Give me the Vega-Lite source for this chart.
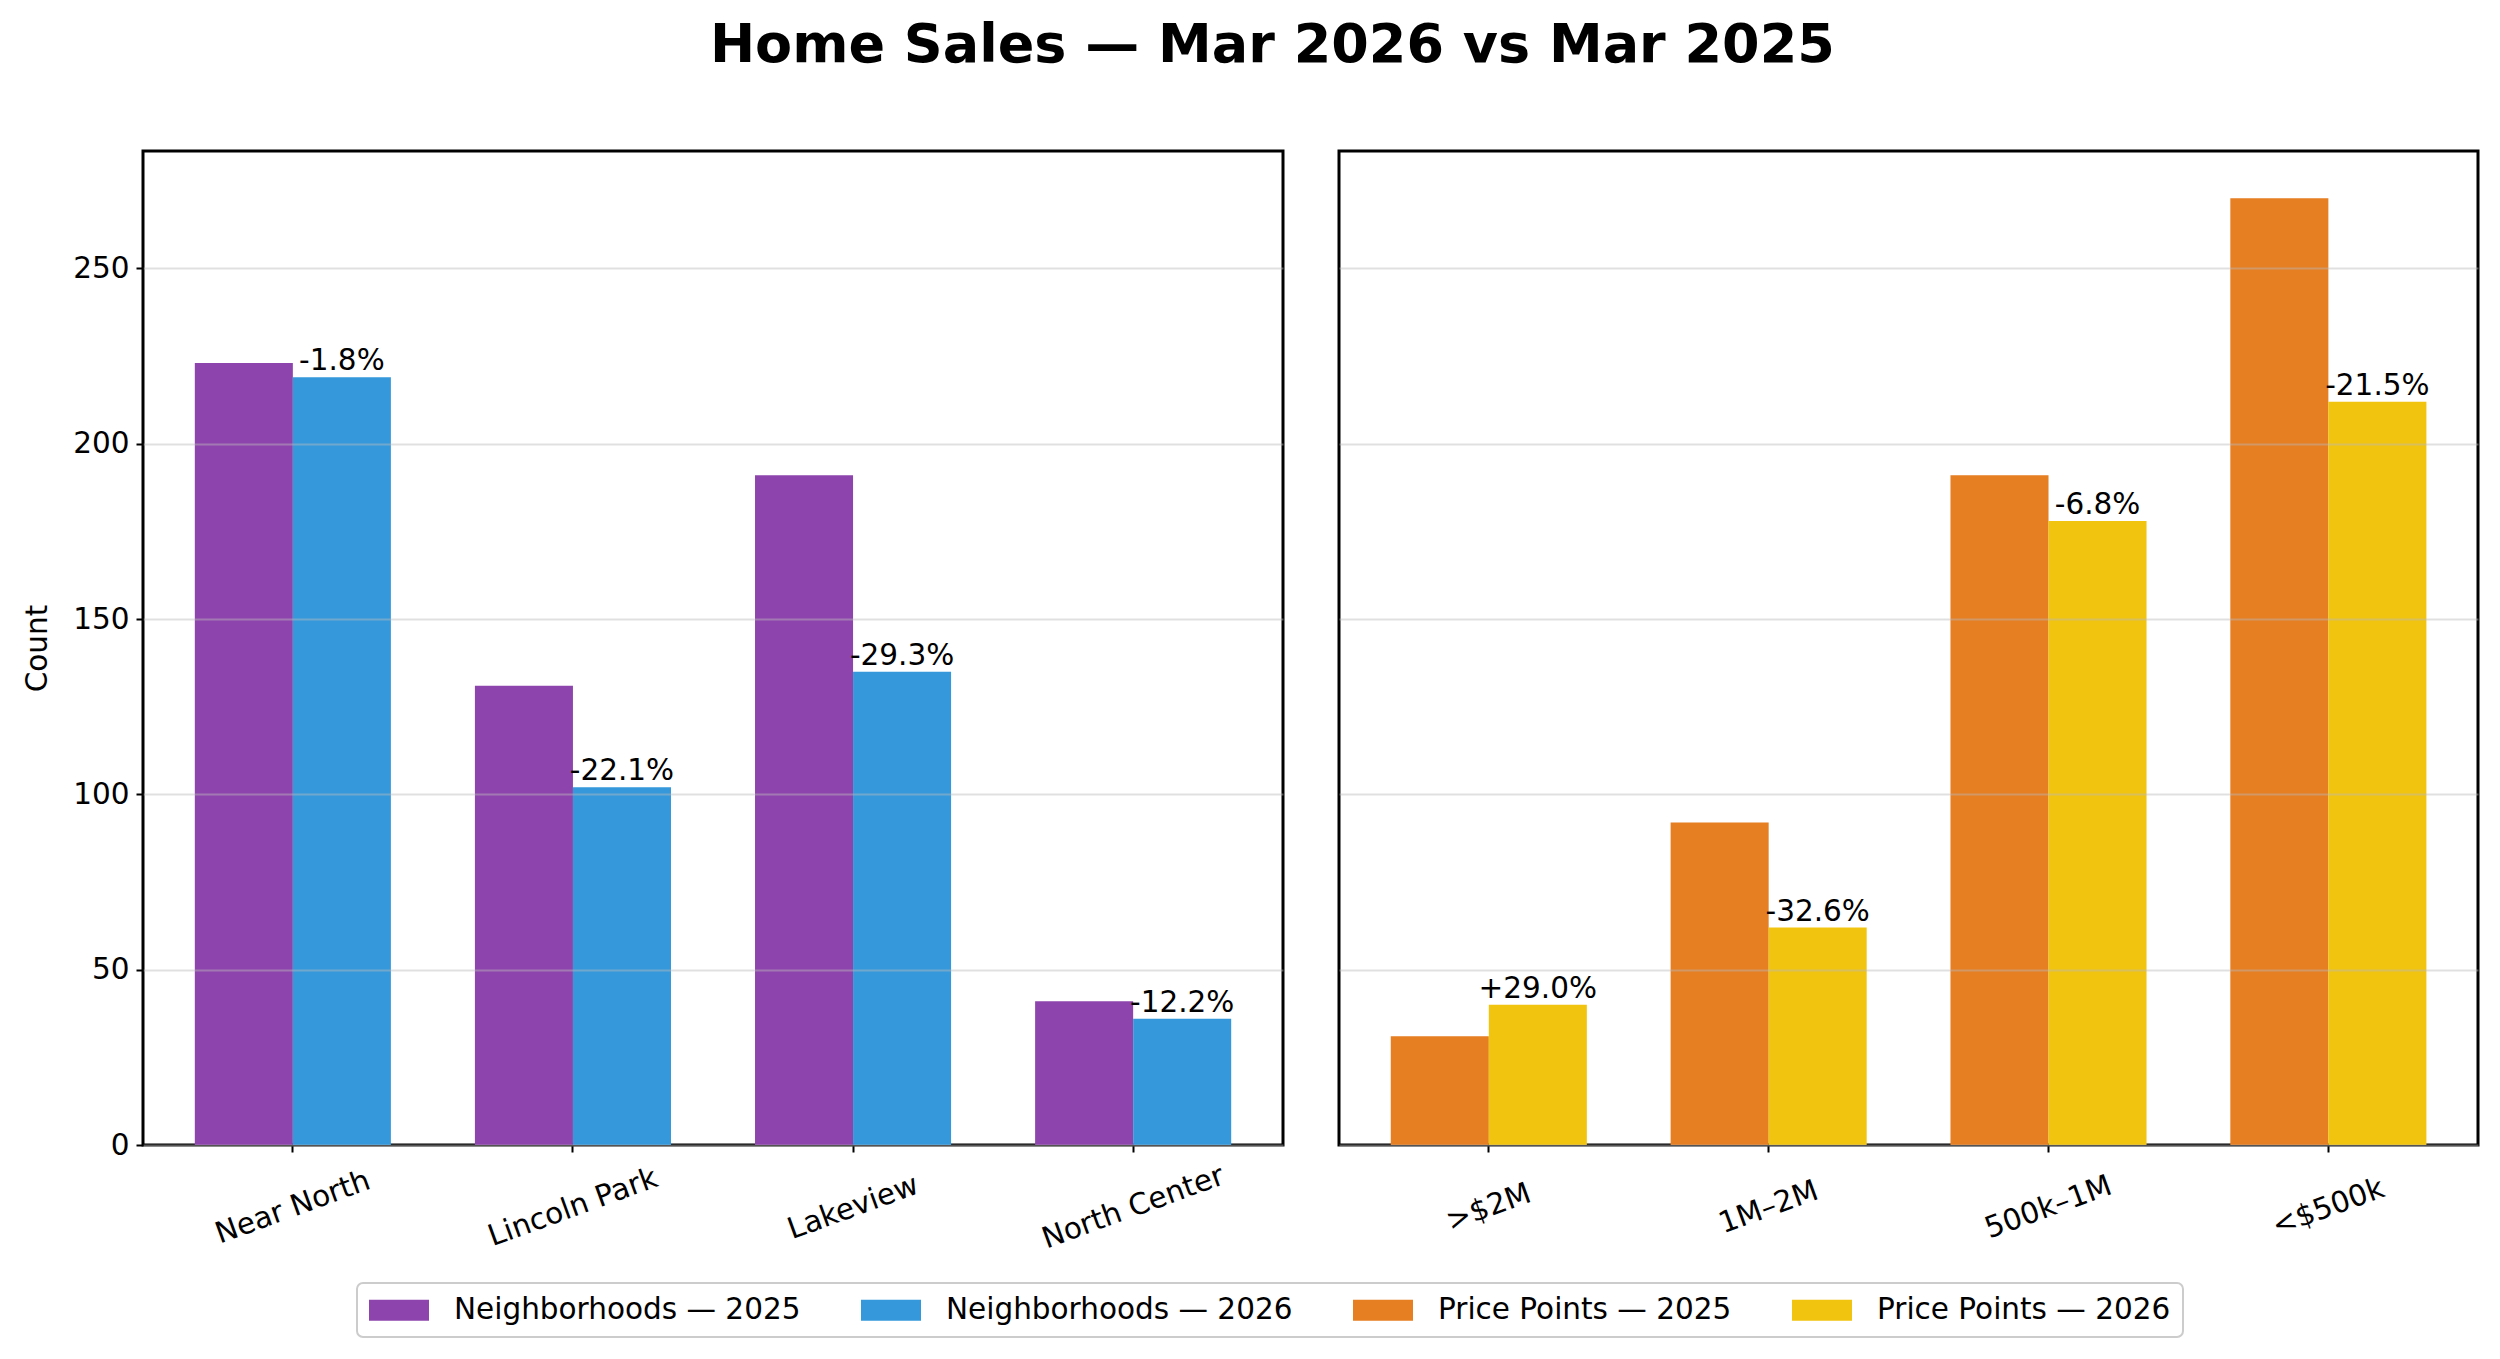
{
  "$schema": "https://vega.github.io/schema/vega-lite/v6.json",
  "background": "white",
  "padding": {"left": 21, "top": 18, "right": 20, "bottom": 10},
  "title": {
    "text": "Home Sales — Mar 2026 vs Mar 2025",
    "font": "DejaVu Sans",
    "fontSize": 54,
    "fontWeight": "bold",
    "color": "black",
    "anchor": "middle",
    "offset": 77,
    "dx": 22
  },
  "config": {
    "font": "DejaVu Sans",
    "view": {"stroke": "black", "strokeWidth": 3},
    "axis": {
      "labelFont": "DejaVu Sans",
      "labelFontSize": 29.5,
      "labelColor": "black",
      "labelLimit": 600,
      "titleFont": "DejaVu Sans",
      "titleFontSize": 29.5,
      "titleFontWeight": "normal",
      "titleColor": "black",
      "tickColor": "black",
      "tickWidth": 2,
      "tickSize": 7,
      "domain": false,
      "gridColor": "#bbbbbb",
      "gridOpacity": 0.45,
      "gridWidth": 2
    },
    "legend": {
      "labelFont": "DejaVu Sans",
      "labelFontSize": 29.5,
      "labelColor": "black",
      "labelLimit": 700,
      "labelOffset": 40,
      "columnPadding": 60,
      "padding": 12,
      "strokeColor": "#cccccc",
      "strokeWidth": 2,
      "cornerRadius": 6,
      "fillColor": "white"
    }
  },
  "data": {
    "values": [
      {"panel": "Neighborhoods", "category": "Near North", "year": "2025", "series": "Neighborhoods — 2025", "value": 223, "label": ""},
      {"panel": "Neighborhoods", "category": "Near North", "year": "2026", "series": "Neighborhoods — 2026", "value": 219, "label": "-1.8%"},
      {"panel": "Neighborhoods", "category": "Lincoln Park", "year": "2025", "series": "Neighborhoods — 2025", "value": 131, "label": ""},
      {"panel": "Neighborhoods", "category": "Lincoln Park", "year": "2026", "series": "Neighborhoods — 2026", "value": 102, "label": "-22.1%"},
      {"panel": "Neighborhoods", "category": "Lakeview", "year": "2025", "series": "Neighborhoods — 2025", "value": 191, "label": ""},
      {"panel": "Neighborhoods", "category": "Lakeview", "year": "2026", "series": "Neighborhoods — 2026", "value": 135, "label": "-29.3%"},
      {"panel": "Neighborhoods", "category": "North Center", "year": "2025", "series": "Neighborhoods — 2025", "value": 41, "label": ""},
      {"panel": "Neighborhoods", "category": "North Center", "year": "2026", "series": "Neighborhoods — 2026", "value": 36, "label": "-12.2%"},
      {"panel": "Price Points", "category": ">$2M", "year": "2025", "series": "Price Points — 2025", "value": 31, "label": ""},
      {"panel": "Price Points", "category": ">$2M", "year": "2026", "series": "Price Points — 2026", "value": 40, "label": "+29.0%"},
      {"panel": "Price Points", "category": "1M–2M", "year": "2025", "series": "Price Points — 2025", "value": 92, "label": ""},
      {"panel": "Price Points", "category": "1M–2M", "year": "2026", "series": "Price Points — 2026", "value": 62, "label": "-32.6%"},
      {"panel": "Price Points", "category": "500k–1M", "year": "2025", "series": "Price Points — 2025", "value": 191, "label": ""},
      {"panel": "Price Points", "category": "500k–1M", "year": "2026", "series": "Price Points — 2026", "value": 178, "label": "-6.8%"},
      {"panel": "Price Points", "category": "<$500k", "year": "2025", "series": "Price Points — 2025", "value": 270, "label": ""},
      {"panel": "Price Points", "category": "<$500k", "year": "2026", "series": "Price Points — 2026", "value": 212, "label": "-21.5%"}
    ]
  },
  "spacing": 52,
  "resolve": {"scale": {"color": "shared"}, "legend": {"color": "shared"}},
  "hconcat": [
    {
      "width": 1140,
      "height": 994,
      "transform": [{"filter": "datum.panel === 'Neighborhoods'"}],
      "encoding": {
        "x": {
          "field": "category", "type": "nominal",
          "sort": ["Near North", "Lincoln Park", "Lakeview", "North Center"],
          "scale": {"paddingInner": 0.3, "paddingOuter": 0.185},
          "axis": {"title": null, "labelAngle": -20, "labelAlign": "center", "labelBaseline": "middle", "labelPadding": 55, "grid": false}
        },
        "xOffset": {"field": "year", "type": "nominal", "scale": {"domain": ["2025", "2026"], "paddingInner": 0, "paddingOuter": 0}},
        "y": {
          "field": "value", "type": "quantitative",
          "scale": {"domain": [0, 283.5], "nice": false, "zero": true},
          "axis": {"title": "Count", "values": [0, 50, 100, 150, 200, 250], "grid": true, "zindex": 1, "labelPadding": 7, "titlePadding": 20}
        }
      },
      "layer": [
        {
          "mark": {"type": "bar"},
          "encoding": {
            "color": {
              "field": "series", "type": "nominal",
              "scale": {
                "domain": ["Neighborhoods — 2025", "Neighborhoods — 2026", "Price Points — 2025", "Price Points — 2026"],
                "range": ["#8e44ad", "#3498db", "#e67e22", "#f1c40f"]
              },
              "legend": {
                "title": null,
                "orient": "none",
                "legendX": 214,
                "legendY": 1132,
                "direction": "horizontal",
                "columns": 4,
                "symbolType": "M-2,-0.7L2,-0.7L2,0.7L-2,0.7Z",
                "symbolSize": 900,
                "symbolOffset": 15,
                "symbolStrokeWidth": 0,
                "symbolOpacity": 1
              }
            }
          }
        },
        {
          "transform": [{"filter": "datum.year === '2026'"}],
          "mark": {"type": "text", "baseline": "alphabetic", "dy": -7, "fontSize": 29.5, "color": "black", "font": "DejaVu Sans"},
          "encoding": {"text": {"field": "label", "type": "nominal"}}
        }
      ]
    },
    {
      "width": 1139,
      "height": 994,
      "transform": [{"filter": "datum.panel === 'Price Points'"}],
      "encoding": {
        "x": {
          "field": "category", "type": "nominal",
          "sort": [">$2M", "1M–2M", "500k–1M", "<$500k"],
          "scale": {"paddingInner": 0.3, "paddingOuter": 0.185},
          "axis": {"title": null, "labelAngle": -20, "labelAlign": "center", "labelBaseline": "middle", "labelPadding": 55, "grid": false}
        },
        "xOffset": {"field": "year", "type": "nominal", "scale": {"domain": ["2025", "2026"], "paddingInner": 0, "paddingOuter": 0}},
        "y": {
          "field": "value", "type": "quantitative",
          "scale": {"domain": [0, 283.5], "nice": false, "zero": true},
          "axis": {"title": null, "labels": false, "ticks": false, "values": [0, 50, 100, 150, 200, 250], "grid": true, "zindex": 1}
        }
      },
      "layer": [
        {
          "mark": {"type": "bar"},
          "encoding": {
            "color": {"field": "series", "type": "nominal"}
          }
        },
        {
          "transform": [{"filter": "datum.year === '2026'"}],
          "mark": {"type": "text", "baseline": "alphabetic", "dy": -7, "fontSize": 29.5, "color": "black", "font": "DejaVu Sans"},
          "encoding": {"text": {"field": "label", "type": "nominal"}}
        }
      ]
    }
  ]
}
